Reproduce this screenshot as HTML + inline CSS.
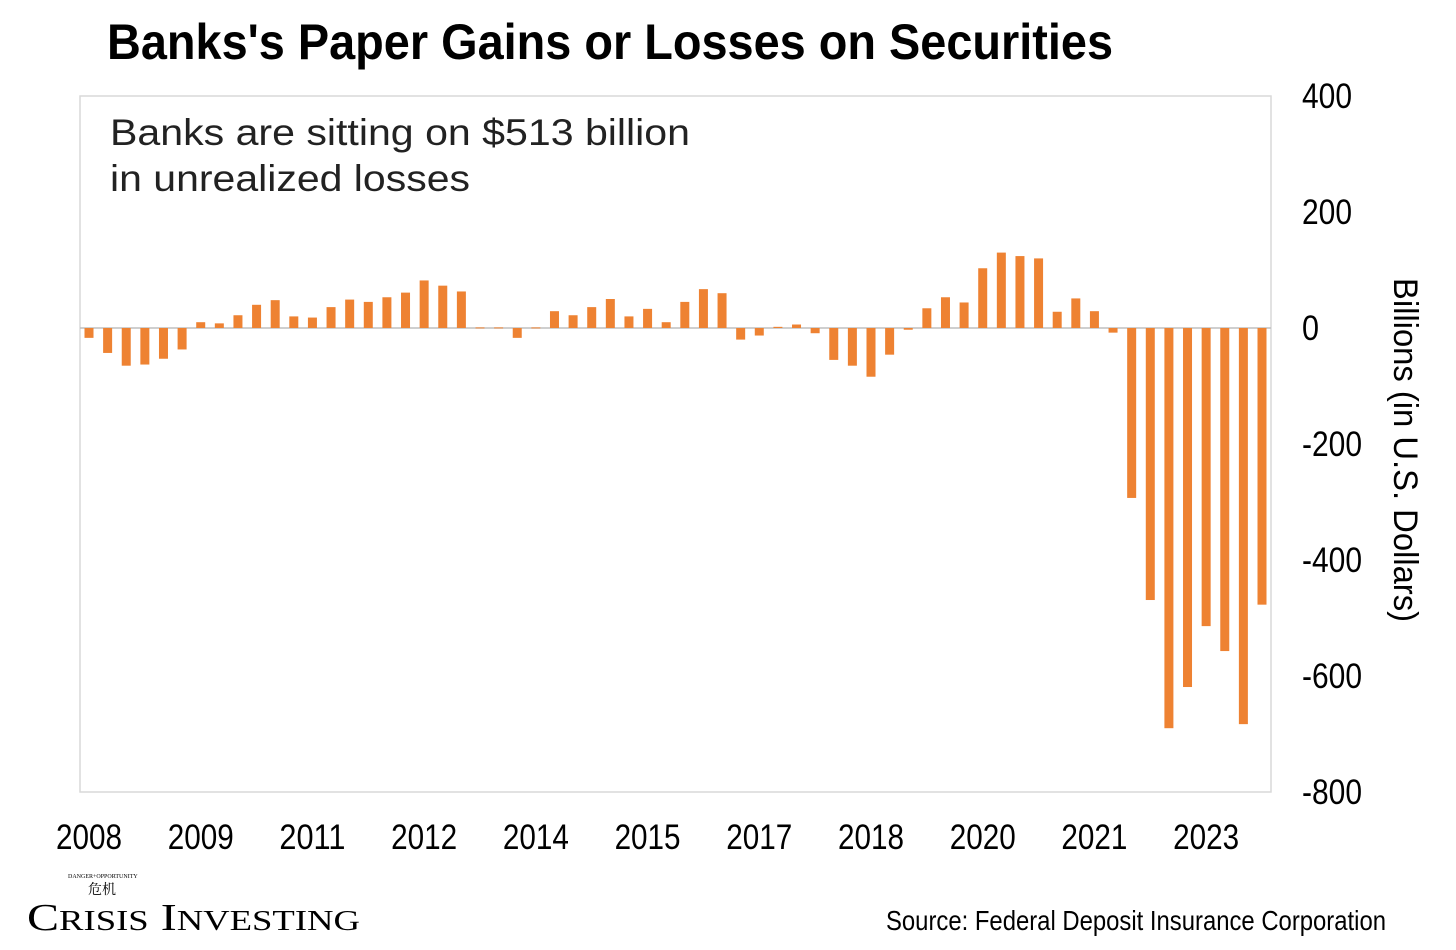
<!DOCTYPE html>
<html><head><meta charset="utf-8"><style>
body{margin:0;background:#fff}
svg{display:block}
text{font-family:"Liberation Sans Narrow","Liberation Sans",sans-serif}
</style></head><body>
<svg id="chart" width="1456" height="950" viewBox="0 0 1456 950" xmlns="http://www.w3.org/2000/svg">
<text x="107" y="59" font-size="50" font-weight="bold" textLength="1006" lengthAdjust="spacingAndGlyphs">Banks's Paper Gains or Losses on Securities</text>
<rect x="80" y="96" width="1191" height="696" fill="#fff" stroke="#d9d9d9" stroke-width="1.5"/>
<line x1="80" x2="1271" y1="328" y2="328" stroke="#bfbfbf" stroke-width="1.5"/>
<g id="bars"></g>
<g id="yticks"></g>
<g id="xticks"></g>
<text x="110" y="145" font-size="37" style="font-family:'Liberation Sans',sans-serif" fill="#222" textLength="580" lengthAdjust="spacingAndGlyphs">Banks are sitting on $513 billion</text>
<text x="110" y="191" font-size="37" style="font-family:'Liberation Sans',sans-serif" fill="#222" textLength="360" lengthAdjust="spacingAndGlyphs">in unrealized losses</text>
<text transform="translate(1394,278) rotate(90)" font-size="34" textLength="344" lengthAdjust="spacingAndGlyphs">Billions (in U.S. Dollars)</text>
<text x="886" y="930" font-size="28" textLength="500" lengthAdjust="spacingAndGlyphs">Source: Federal Deposit Insurance Corporation</text>
<g>
<text x="68" y="878" font-size="6" style="font-family:'Liberation Serif',serif">DANGER+OPPORTUNITY</text>
<text x="88" y="894" font-size="14" style="font-family:'Noto Serif CJK SC',serif">危机</text>
<text x="27" y="930" font-size="38" style="font-family:'Liberation Serif',serif" textLength="333" lengthAdjust="spacingAndGlyphs">C<tspan font-size="29">RISIS</tspan> I<tspan font-size="29">NVESTING</tspan></text>
</g>
</svg>
<script>
const values = [-17,-43,-65,-63,-53,-37,10,8,22,40,48,20,18,36,49,45,53,61,82,73,63,1,1,-17,1,29,22,36,50,20,33,10,45,67,60,-20,-13,2,6,-9,-55,-65,-84,-46,-3,34,53,44,103,130,124,120,28,51,29,-8,-293,-469,-690,-619,-514,-557,-683,-477];
const yTicks = [400,200,0,-200,-400,-600,-800];
const xLabels = ["2008","2009","2011","2012","2014","2015","2017","2018","2020","2021","2023"];
const NS="http://www.w3.org/2000/svg";
const yMin=-800,yMax=400,plotTop=96,plotBot=792;
const y=v=>plotTop+(yMax-v)/(yMax-yMin)*(plotBot-plotTop);
const x0=89,x1=1262;
const x=i=>x0+i*(x1-x0)/(values.length-1);
const bars=document.getElementById('bars');
values.forEach((v,i)=>{
 const r=document.createElementNS(NS,'rect');
 
 
 const a=y(v),b=y(0);
 r.setAttribute('x',x(i)-4.5);r.setAttribute('width',9);
 r.setAttribute('y',Math.min(a,b));r.setAttribute('height',Math.max(Math.abs(a-b),1));
 r.setAttribute('fill','#EE8232');
 bars.appendChild(r);
});
const yg=document.getElementById('yticks');
yTicks.forEach(t=>{
 const e=document.createElementNS(NS,'text');
 
 
 e.setAttribute('x',1302);e.setAttribute('y',y(t)+12);
 e.setAttribute('font-size','35');
 const s=String(t);
 e.setAttribute('textLength', s==='0'?17:(t<0?60:50));
 e.setAttribute('lengthAdjust','spacingAndGlyphs');
 e.textContent=s;yg.appendChild(e);
});
const xg=document.getElementById('xticks');
xLabels.forEach((l,k)=>{
 const e=document.createElementNS(NS,'text');
 
 
 e.setAttribute('x',x(k*6));e.setAttribute('y',849);
 e.setAttribute('text-anchor','middle');e.setAttribute('font-size','35');
 e.setAttribute('textLength',66);
 e.setAttribute('lengthAdjust','spacingAndGlyphs');
 e.textContent=l;xg.appendChild(e);
});
</script>
</body></html>
